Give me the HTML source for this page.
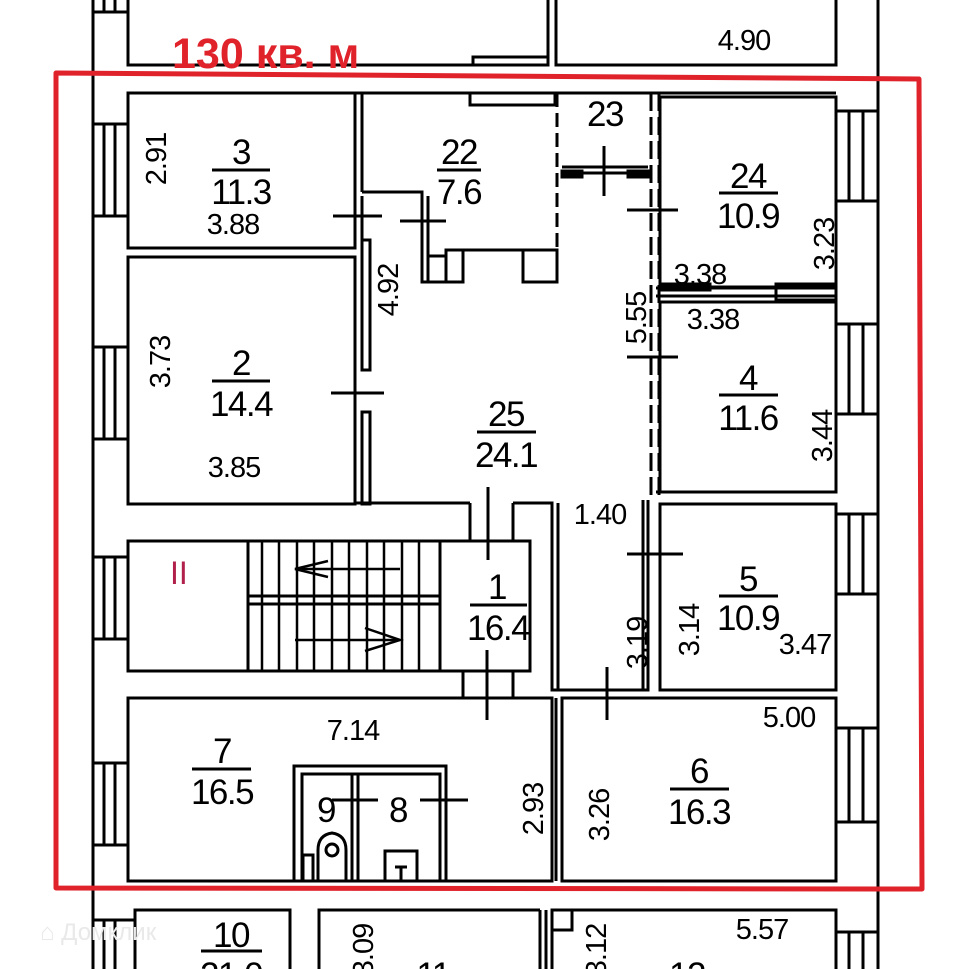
<!DOCTYPE html>
<html><head><meta charset="utf-8"><style>
html,body{margin:0;padding:0;background:#fff;}
svg{display:block;}
text{font-family:"Liberation Sans",sans-serif;fill:#000;}
.n{font-size:35px;text-anchor:middle;letter-spacing:-1.5px;}
.d{font-size:29px;text-anchor:middle;letter-spacing:-1px;}
</style></head><body>
<svg width="953" height="969" viewBox="0 0 953 969" xmlns="http://www.w3.org/2000/svg">
<g fill="none" stroke="#000" stroke-width="3">
<line x1="93" y1="0" x2="93" y2="969"/>
<line x1="878" y1="0" x2="878" y2="969"/>
<polyline points="128,0 128,65 548,65 548,0"/>
<polyline points="556,0 556,65 836,65 836,0"/>
<rect x="473" y="57" width="75" height="8"/>
<line x1="93" y1="12" x2="128" y2="12"/>
<line x1="104" y1="0" x2="104" y2="12"/><line x1="115" y1="0" x2="115" y2="12"/>
<rect x="128" y="93" width="227" height="155"/>
<rect x="128" y="257" width="227" height="247"/>
<line x1="362" y1="93" x2="362" y2="192"/>
<line x1="362" y1="196" x2="362" y2="240"/>
<rect x="362" y="240" width="8" height="130"/>
<rect x="362" y="412" width="8" height="92"/>
<line x1="355" y1="503" x2="470" y2="503"/>
<line x1="128" y1="93" x2="836" y2="93"/>
<polyline points="362,192 422,192 422,282 462,282 462,250 555,250"/>
<rect x="470" y="93" width="85" height="12"/>
<polyline points="428,196 428,282"/>
<rect x="446" y="250" width="17" height="32" fill="#fff"/>
<rect x="523" y="250" width="34" height="32"/>
<rect x="428" y="256" width="18" height="26"/>
<line x1="557" y1="93" x2="557" y2="250" stroke-dasharray="14,6"/>
<line x1="562" y1="167" x2="648" y2="167"/>
<rect x="562" y="171" width="20" height="6" fill="#000"/>
<rect x="628" y="171" width="20" height="6" fill="#000"/>
<line x1="582" y1="173" x2="628" y2="173"/>
<line x1="651" y1="93" x2="651" y2="500" stroke-dasharray="18,6"/>
<line x1="659" y1="93" x2="659" y2="500" stroke-dasharray="18,6"/>
<rect x="660" y="97" width="176" height="190"/>
<line x1="656" y1="288" x2="836" y2="288"/>
<line x1="656" y1="296" x2="836" y2="296"/>
<rect x="660" y="284" width="50" height="6"/>
<rect x="776" y="284" width="60" height="16"/>
<rect x="660" y="302" width="176" height="190"/>
<rect x="660" y="504" width="176" height="186"/>
<line x1="656" y1="492" x2="836" y2="492"/>
<polyline points="513,503 552,503 552,690 648,690 648,500"/>
<line x1="558" y1="503" x2="558" y2="690"/>
<line x1="643" y1="500" x2="643" y2="690"/>
<rect x="128" y="541" width="402" height="130"/>
<polyline points="470,503 470,541"/><polyline points="513,503 513,541"/>
<rect x="440" y="541" width="90" height="130"/>
<polyline points="463,671 463,698"/><polyline points="513,671 513,698"/>
<line x1="248" y1="541" x2="248" y2="671"/>
<line x1="248" y1="596" x2="440" y2="596"/>
<line x1="248" y1="604" x2="440" y2="604"/>
<g stroke-width="2.5">
<line x1="262" y1="541" x2="262" y2="671"/><line x1="279" y1="541" x2="279" y2="671"/>
<line x1="297" y1="541" x2="297" y2="671"/><line x1="314" y1="541" x2="314" y2="671"/>
<line x1="332" y1="541" x2="332" y2="671"/><line x1="349" y1="541" x2="349" y2="671"/>
<line x1="367" y1="541" x2="367" y2="671"/><line x1="384" y1="541" x2="384" y2="671"/>
<line x1="402" y1="541" x2="402" y2="671"/><line x1="419" y1="541" x2="419" y2="671"/>
<line x1="295" y1="569" x2="400" y2="569"/>
<polyline points="328,561 295,569 328,577"/>
<line x1="295" y1="640" x2="400" y2="640"/>
<polyline points="365,628 400,640 365,651"/>
</g>
<rect x="128" y="698" width="424" height="183"/>
<rect x="294" y="766" width="152" height="115"/>
<rect x="302" y="774" width="138" height="107"/>
<line x1="352" y1="774" x2="352" y2="881"/><line x1="358" y1="774" x2="358" y2="881"/>
<path d="M318,881 V850 Q318,835 332,833 Q346,835 346,850 V881"/>
<circle cx="332" cy="850" r="6"/>
<rect x="385" y="851" width="32" height="30"/>
<line x1="395" y1="867" x2="407" y2="867"/><line x1="401" y1="867" x2="401" y2="881"/>
<rect x="303" y="855" width="10" height="26"/>
<rect x="562" y="698" width="274" height="183"/>
<line x1="556" y1="698" x2="556" y2="881"/>
<g>
<rect x="93" y="124" width="35" height="92"/><line x1="104" y1="124" x2="104" y2="216"/><line x1="115" y1="124" x2="115" y2="216"/>
<rect x="93" y="347" width="35" height="92"/><line x1="104" y1="347" x2="104" y2="439"/><line x1="115" y1="347" x2="115" y2="439"/>
<rect x="93" y="557" width="35" height="82"/><line x1="104" y1="557" x2="104" y2="639"/><line x1="115" y1="557" x2="115" y2="639"/>
<rect x="93" y="763" width="35" height="82"/><line x1="104" y1="763" x2="104" y2="845"/><line x1="115" y1="763" x2="115" y2="845"/>
<rect x="836" y="111" width="42" height="90"/><line x1="849" y1="111" x2="849" y2="201"/><line x1="863" y1="111" x2="863" y2="201"/>
<rect x="836" y="324" width="42" height="90"/><line x1="849" y1="324" x2="849" y2="414"/><line x1="863" y1="324" x2="863" y2="414"/>
<rect x="836" y="514" width="42" height="80"/><line x1="849" y1="514" x2="849" y2="594"/><line x1="863" y1="514" x2="863" y2="594"/>
<rect x="836" y="728" width="42" height="94"/><line x1="849" y1="728" x2="849" y2="822"/><line x1="863" y1="728" x2="863" y2="822"/>
</g>
<g stroke-width="3">
<line x1="333" y1="216" x2="382" y2="216"/><line x1="400" y1="221" x2="446" y2="221"/>
<line x1="331" y1="393" x2="384" y2="393"/>
<line x1="604" y1="146" x2="604" y2="196"/>
<line x1="627" y1="210" x2="678" y2="210"/>
<line x1="627" y1="357" x2="678" y2="357"/>
<line x1="488" y1="487" x2="488" y2="560"/>
<line x1="487" y1="650" x2="487" y2="720"/>
<line x1="627" y1="554" x2="683" y2="554"/>
<line x1="607" y1="667" x2="607" y2="720"/>
<line x1="332" y1="800" x2="378" y2="800"/><line x1="420" y1="800" x2="468" y2="800"/>
</g>
<polyline points="135,969 135,910 290,910 290,969"/>
<polyline points="319,969 319,910 540,910"/>
<line x1="540" y1="910" x2="540" y2="969"/>
<line x1="546" y1="910" x2="546" y2="969"/>
<polyline points="552,969 552,910 836,910 836,969"/>
<rect x="552" y="910" width="20" height="20"/>
<line x1="93" y1="920" x2="135" y2="920"/><line x1="104" y1="920" x2="104" y2="969"/><line x1="115" y1="920" x2="115" y2="969"/>
<line x1="836" y1="932" x2="878" y2="932"/><line x1="849" y1="932" x2="849" y2="969"/><line x1="863" y1="932" x2="863" y2="969"/>
</g>
<g stroke="#000" stroke-width="3">
<line x1="212" y1="170" x2="270" y2="170"/>
<line x1="437" y1="170" x2="481" y2="170"/>
<line x1="719" y1="193" x2="778" y2="193"/>
<line x1="212" y1="381" x2="270" y2="381"/>
<line x1="477" y1="432" x2="536" y2="432"/>
<line x1="719" y1="395" x2="778" y2="395"/>
<line x1="470" y1="605" x2="527" y2="605"/>
<line x1="719" y1="596" x2="778" y2="596"/>
<line x1="192" y1="769" x2="251" y2="769"/>
<line x1="670" y1="789" x2="729" y2="789"/>
<line x1="201" y1="951" x2="262" y2="951"/>
</g>
<text class="n" x="241" y="164">3</text><text class="n" x="241" y="204">11.3</text>
<text class="d" x="233" y="234">3.88</text>
<text class="d" transform="translate(166,159) rotate(-90)">2.91</text>
<text class="n" x="459" y="164">22</text><text class="n" x="459" y="204">7.6</text>
<text class="n" x="605" y="126">23</text>
<text class="n" x="748" y="188">24</text><text class="n" x="748" y="228">10.9</text>
<text class="d" transform="translate(834,244) rotate(-90)">3.23</text>
<text class="d" x="700" y="284">3.38</text>
<text class="d" x="713" y="329">3.38</text>
<text class="d" transform="translate(646,318) rotate(-90)">5.55</text>
<text class="d" transform="translate(398,290) rotate(-90)">4.92</text>
<text class="d" transform="translate(170,362) rotate(-90)">3.73</text>
<text class="n" x="241" y="375">2</text><text class="n" x="241" y="416">14.4</text>
<text class="d" x="234" y="477">3.85</text>
<text class="n" x="506" y="426">25</text><text class="n" x="506" y="467">24.1</text>
<text class="n" x="748" y="390">4</text><text class="n" x="748" y="430">11.6</text>
<text class="d" transform="translate(832,436) rotate(-90)">3.44</text>
<text class="d" x="600" y="524">1.40</text>
<text style="font-size:32px;fill:#b0204a;font-family:'Liberation Sans',sans-serif" x="170" y="584">II</text>
<text class="n" x="497" y="599">1</text><text class="n" x="498" y="640">16.4</text>
<text class="n" x="748" y="591">5</text><text class="n" x="748" y="630">10.9</text>
<text class="d" transform="translate(699,630) rotate(-90)">3.14</text>
<text class="d" transform="translate(647,643) rotate(-90)">3.19</text>
<text class="d" x="805" y="654">3.47</text>
<text class="d" x="353" y="740">7.14</text>
<text class="n" x="222" y="763">7</text><text class="n" x="222" y="804">16.5</text>
<text class="n" x="326" y="822">9</text><text class="n" x="398" y="822">8</text>
<text class="d" transform="translate(543,809) rotate(-90)">2.93</text>
<text class="n" x="699" y="783">6</text><text class="n" x="699" y="824">16.3</text>
<text class="d" x="789" y="727">5.00</text>
<text class="d" transform="translate(609,815) rotate(-90)">3.26</text>
<text class="d" x="744" y="50">4.90</text>
<text class="d" x="762" y="939">5.57</text>
<text class="n" x="231" y="947">10</text><text class="n" x="231" y="987">21.0</text>
<text class="d" transform="translate(373,950) rotate(-90)">3.09</text>
<text class="d" transform="translate(606,950) rotate(-90)">3.12</text>
<text class="n" x="433" y="987">11</text><text class="n" x="687" y="987">12</text>
<text style="font-size:24px;fill:#e9e9e9;font-family:'Liberation Sans',sans-serif" x="40" y="940">⌂ Домклик</text>
<text style="font-size:43px;font-weight:bold;fill:#e0222b;font-family:'Liberation Sans',sans-serif" x="172" y="68">130 кв. м</text>
<polygon points="56,73 919,79 922,889 56,888" fill="none" stroke="#e0222b" stroke-width="5" stroke-linejoin="round"/>
</svg>
</body></html>
